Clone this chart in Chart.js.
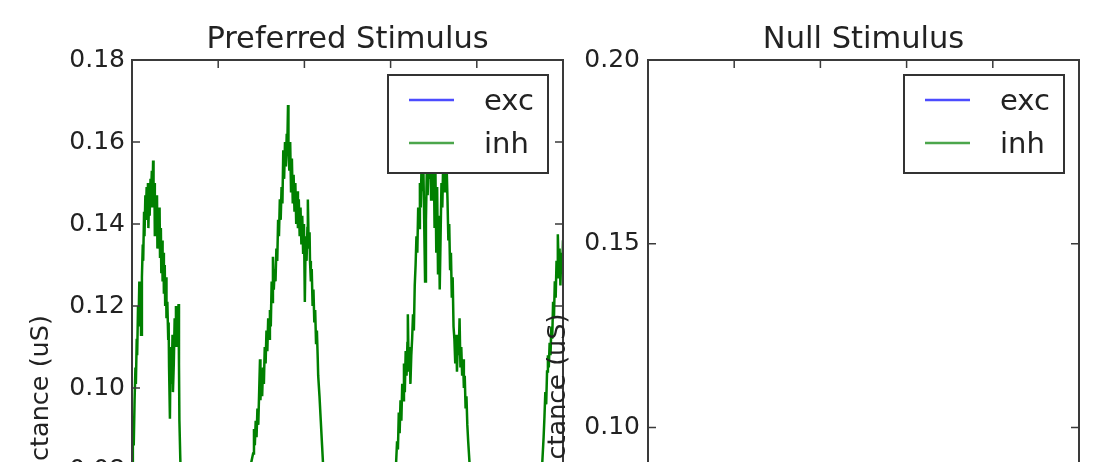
<!DOCTYPE html>
<html>
<head>
<meta charset="utf-8">
<script src="https://cdn.jsdelivr.net/npm/chart.js@4/dist/chart.umd.min.js"></script>
<style>
  html, body { margin: 0; padding: 0; overflow: hidden; background: #fff; }
  #wrap { position: relative; width: 1094px; height: 462px; overflow: hidden; background: #fff; }
  #wrap canvas { position: absolute; top: 0; }
</style>
</head>
<body>
<div id="wrap">
  <canvas id="prefChart" width="580" height="820" style="left:0"></canvas>
  <canvas id="nullChart" width="594" height="818" style="left:500px"></canvas>
</div>
<script>
// time (ms) and inhibitory conductance (uS), preferred stimulus
const prefTime = [
  0, 2, 4, 6, 8, 9, 11, 12, 14, 15, 17, 18, 20, 21, 23, 25, 26, 28, 29, 31, 32, 34, 35, 37, 38, 40,
  41, 43, 44, 46, 47, 49, 50, 52, 53, 55, 56, 58, 59, 61, 62, 64, 65, 67, 68, 70, 71, 73, 74, 76,
  77, 79, 80, 82, 84, 85, 86, 88, 89, 91, 92, 94, 95, 97, 99, 100, 102, 103, 105, 106, 108, 109,
  110, 112, 115,
  130, 160, 190, 220, 250, 270, 277,
  281, 283, 285, 287, 289, 291, 293, 295, 297, 298, 300, 302, 304, 306, 308, 310, 312, 314, 316,
  318, 320, 322, 324, 325, 327, 329, 331, 333, 335, 337, 339, 341, 343, 345, 347, 349, 351, 353,
  355, 357, 359, 360, 362, 363, 365, 367, 369, 371, 373, 375, 377, 379, 381, 383, 385, 387, 389,
  391, 393, 395, 397, 399, 401, 403, 405, 407, 408, 410, 412, 413, 415, 417, 419, 421, 423, 425,
  427, 429, 431, 432, 435, 438, 441, 444, 448,
  470, 500, 530, 560, 590, 608,
  612, 615, 617, 619, 621, 623, 625, 627, 629, 631, 633, 635, 637, 639, 640, 642, 644, 646, 648,
  650, 652, 654, 656, 658, 660, 662, 664, 666, 668, 670, 672, 674, 676, 678, 680, 682, 684, 686,
  688, 690, 692, 694, 696, 698, 700, 702, 704, 706, 708, 710, 712, 714, 716, 718, 720, 722, 724,
  726, 728, 730, 732, 734, 736, 738, 740, 742, 744, 746, 748, 750, 752, 754, 756, 758, 760, 762,
  764, 766, 768, 770, 772, 774, 776, 778, 780, 783, 786,
  800, 830, 860, 890, 920, 945,
  952, 955, 957, 959, 961, 963, 965, 967, 969, 971, 973, 975, 977, 979, 981, 983, 985, 987, 988,
  990, 992, 994, 996, 998, 1000
];
const prefInh = [
  .081, .090, .086, .097, .105, .101, .112, .108, .120, .115, .126, .119, .124, .113, .127, .135,
  .131, .143, .137, .147, .141, .149, .144, .150, .139, .148, .142, .151, .146, .153, .144, .1555,
  .147, .150, .137, .145, .139, .147, .134, .143, .136, .144, .132, .139, .128, .136, .126, .133,
  .123, .130, .120, .127, .117, .121, .112, .116, .105, .0925, .104, .110, .101, .113, .099, .106,
  .117, .112, .120, .110, .119, .114, .1205, .106, .092, .083, .072,
  .060, .045, .035, .040, .060, .075, .082,
  .084, .090, .086, .092, .088, .095, .091, .099, .107, .097, .102, .098, .105, .101, .110, .106,
  .114, .109, .117, .112, .119, .115, .126, .121, .132, .124, .129, .126, .134, .131, .141, .137,
  .146, .141, .149, .145, .158, .151, .160, .154, .162, .157, .169, .158, .153, .160, .148, .156,
  .145, .152, .143, .150, .140, .148, .139, .146, .137, .144, .135, .142, .133, .140, .121, .137,
  .131, .139, .146, .134, .138, .131, .126, .129, .120, .124, .116, .119, .111, .114, .107, .103,
  .098, .092, .086, .080, .073,
  .060, .045, .038, .045, .062, .076,
  .080, .087, .085, .094, .089, .097, .092, .101, .097, .106, .099, .109, .103, .111, .118, .104,
  .110, .101, .108, .112, .118, .114, .125, .130, .137, .133, .144, .139, .150, .144, .156, .148,
  .154, .140, .126, .141, .153, .147, .158, .151, .156, .146, .160, .150, .158, .139, .153, .133,
  .149, .128, .142, .124, .137, .150, .144, .155, .148, .157, .150, .154, .146, .136, .140, .129,
  .133, .122, .127, .115, .112, .106, .113, .104, .111, .108, .117, .105, .110, .103, .107, .100,
  .103, .095, .098, .091, .087, .082, .076,
  .065, .048, .038, .042, .058, .075,
  .082, .088, .093, .099, .096, .104, .108, .105, .111, .108, .115, .112, .121, .117, .126, .122,
  .131, .127, .1375, .129, .134, .125, .133, .128, .136
];
// excitatory trace and null-stimulus traces: nothing visible inside the cropped view
const prefExc = [];
const nullExc = [];
const nullInh = [];

const seriesNames = ['exc', 'inh'];
const seriesColors = ['#0000ff', '#008000'];

Chart.defaults.font.family = "'DejaVu Sans', sans-serif";
Chart.defaults.color = '#222';

const toPoints = (xs, ys) => xs.map((x, i) => ({ x: x, y: ys[i] }));

// frame, inward ticks on all four sides, and a boxed legend inside the top right corner
const mplFrame = {
  id: 'mplFrame',
  afterDatasetsDraw(chart) {
    const { ctx, chartArea: a, scales } = chart;
    ctx.save();
    ctx.strokeStyle = '#3a3a3a';
    ctx.lineWidth = 1.5;
    ctx.beginPath();
    scales.y.ticks.forEach(t => {
      const y = scales.y.getPixelForValue(t.value);
      ctx.moveTo(a.left, y); ctx.lineTo(a.left + 8, y);
      ctx.moveTo(a.right, y); ctx.lineTo(a.right - 8, y);
    });
    scales.x.ticks.forEach(t => {
      const x = scales.x.getPixelForValue(t.value);
      ctx.moveTo(x, a.top); ctx.lineTo(x, a.top + 8);
      ctx.moveTo(x, a.bottom); ctx.lineTo(x, a.bottom - 8);
    });
    ctx.stroke();
    ctx.lineWidth = 2;
    ctx.strokeRect(a.left, a.top, a.right - a.left, a.bottom - a.top);

    // legend box
    const bw = 160, bh = 98;
    const bx = a.right - 15 - bw, by = a.top + 15;
    ctx.fillStyle = '#fff';
    ctx.fillRect(bx, by, bw, bh);
    ctx.strokeStyle = '#333';
    ctx.lineWidth = 2;
    ctx.strokeRect(bx, by, bw, bh);
    ctx.font = "29px 'DejaVu Sans'";
    ctx.textBaseline = 'alphabetic';
    ctx.textAlign = 'left';
    chart.data.datasets.forEach((ds, i) => {
      const ly = by + 25 + i * 43;
      ctx.globalAlpha = 0.7;
      ctx.strokeStyle = ds.borderColor;
      ctx.lineWidth = 2.5;
      ctx.beginPath();
      ctx.moveTo(bx + 21, ly); ctx.lineTo(bx + 66, ly);
      ctx.stroke();
      ctx.globalAlpha = 1;
      ctx.fillStyle = '#222';
      ctx.fillText(ds.label, bx + 96, ly + 10);
    });
    ctx.restore();
  }
};

function makeChart(id, title, excData, inhData, yMax, yStep, yAxisWidth, titlePad, tickPad, rightPad) {
  return new Chart(document.getElementById(id), {
    type: 'line',
    data: {
      datasets: [
        { label: seriesNames[0], data: excData, borderColor: seriesColors[0], borderWidth: 2.5, pointRadius: 0, tension: 0 },
        { label: seriesNames[1], data: inhData, borderColor: seriesColors[1], borderWidth: 2.5, pointRadius: 0, tension: 0 }
      ]
    },
    options: {
      responsive: false,
      animation: false,
      layout: { padding: { left: 0, right: rightPad, top: 0, bottom: 0 } },
      plugins: {
        legend: { display: false },
        tooltip: { enabled: false },
        title: {
          display: true,
          text: title,
          fullSize: false,
          color: '#222',
          font: { size: 30.5, weight: 'normal' },
          padding: { top: 21.7, bottom: 1.7 }
        }
      },
      scales: {
        x: {
          type: 'linear',
          min: 0,
          max: 1000,
          ticks: { stepSize: 200, display: false },
          grid: { display: false, drawTicks: false },
          border: { display: false },
          afterFit: (s) => { s.height = 20; }
        },
        y: {
          min: 0,
          max: yMax,
          ticks: {
            stepSize: yStep,
            padding: tickPad,
            font: { size: 25 },
            color: '#222',
            callback: (v) => v.toFixed(2)
          },
          grid: { display: false, drawTicks: false },
          border: { display: false },
          title: {
            display: true,
            text: 'Conductance (uS)',
            color: '#222',
            font: { size: 25.5 },
            padding: { top: titlePad, bottom: 0 }
          },
          afterFit: (s) => { s.width = yAxisWidth; }
        }
      }
    },
    plugins: [mplFrame]
  });
}

makeChart('prefChart', 'Preferred Stimulus', prefExc, toPoints(prefTime, prefInh), 0.18, 0.02, 132, 25.7, 7, 17);
makeChart('nullChart', 'Null Stimulus', nullExc, nullInh, 0.20, 0.05, 148, 42.7, 8, 15);
</script>
</body>
</html>
